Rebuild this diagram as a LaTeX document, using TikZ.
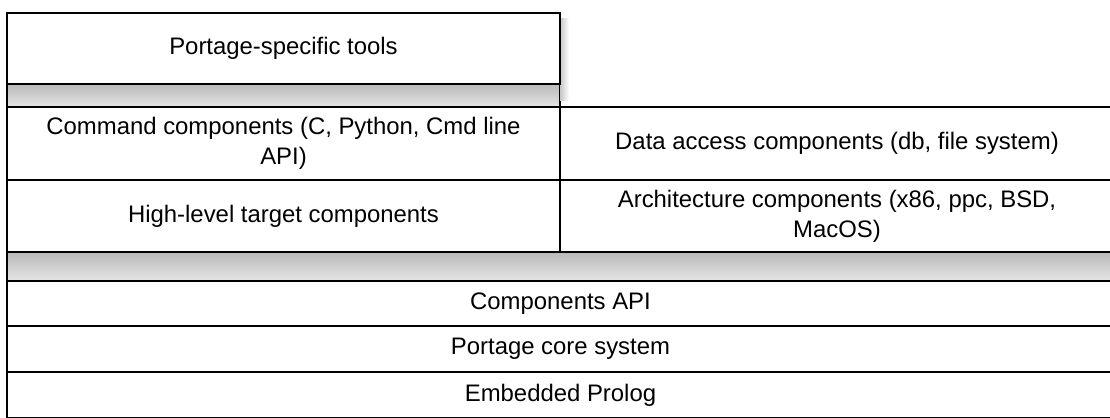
\documentclass[tikz,border=0pt]{standalone}
\usepackage{fontspec}
\setmainfont{Liberation Sans}
\usetikzlibrary{positioning}

\tikzset{
  layer/.style={draw, line width=1.1pt, fill=white, inner sep=0pt, align=center,
    font=\fontsize{13.6}{17}\selectfont},
  band/.style={draw, line width=1.1pt, top color=gray!55, bottom color=gray!20},
}

\begin{document}
\begin{tikzpicture}[x=0.02cm, y=-0.02cm]
  \clip (0,0) rectangle (1110,417);
  \fill[white] (0,0) rectangle (1110,417);

  % Shadow bands
  \draw[band] (7,84) rectangle (560,107);
  \draw[band] (7,252) rectangle (1120,281);
  \shade[left color=gray!45, right color=white] (560,18) rectangle (569,100);

  % Tools layer
  \node[layer, minimum width=11.06cm, minimum height=1.42cm] (tools) at (283.5,48.5) {Portage-specific tools};

  % Components
  \node[layer, minimum width=11.06cm, minimum height=1.46cm] (cmd) at (283.5,143.5) {Command components (C, Python, Cmd line\\API)};
  \node[layer, minimum width=11.08cm, minimum height=1.46cm] (data) at (837,143.5) {Data access components (db, file system)};
  \node[layer, minimum width=11.06cm, minimum height=1.44cm] (high) at (283.5,216) {High-level target components};
  \node[layer, minimum width=11.08cm, minimum height=1.44cm] (arch) at (837,216) {Architecture components (x86, ppc, BSD,\\MacOS)};

  % Core layers
  \node[layer, minimum width=22.14cm, minimum height=0.9cm] (api) at (560.5,303.5) {Components API};
  \node[layer, minimum width=22.14cm, minimum height=0.92cm] (core) at (560.5,349) {Portage core system};
  \node[layer, minimum width=22.14cm, minimum height=0.92cm] (prolog) at (560.5,395) {Embedded Prolog};
\end{tikzpicture}
\end{document}
